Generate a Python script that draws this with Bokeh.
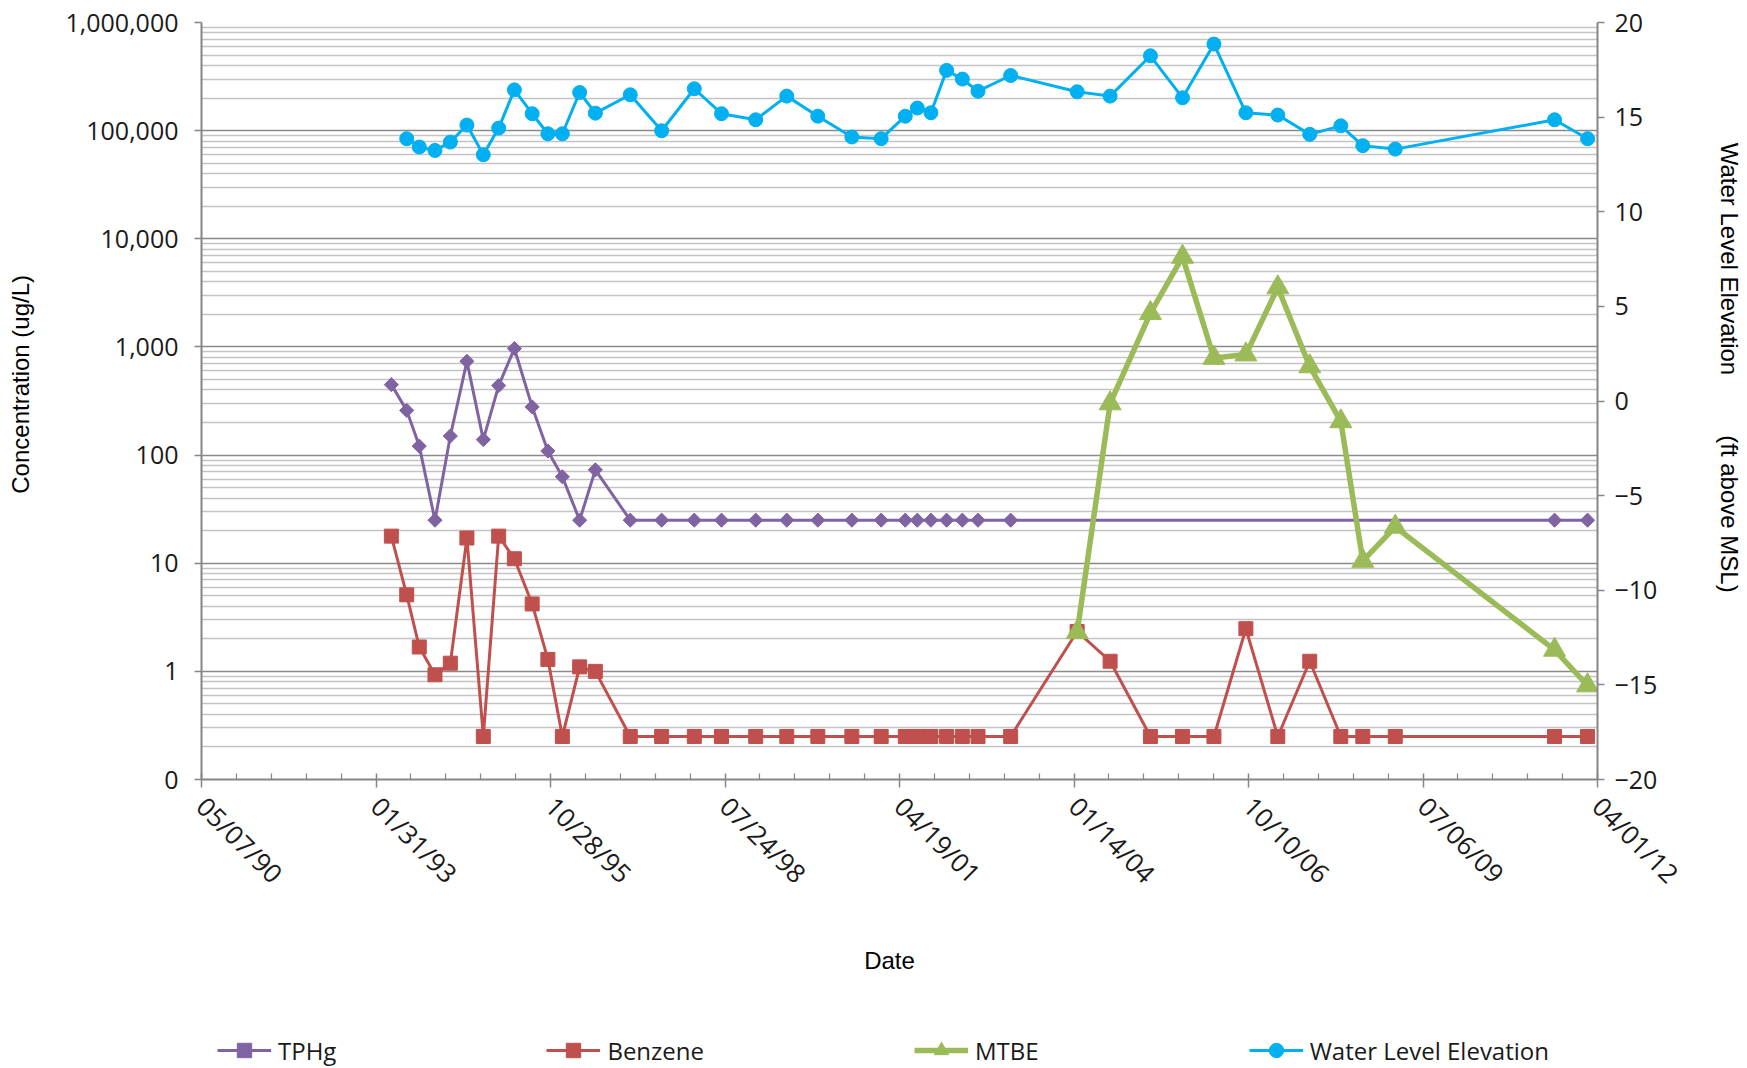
import math
from datetime import datetime, timedelta

import pandas as pd
from bokeh.plotting import figure
from bokeh.layouts import column
from bokeh.models import (Range1d, LinearAxis, LinearScale, FixedTicker, NumeralTickFormatter,
                          DatetimeTickFormatter, Legend, LegendItem, ColumnDataSource)
from bokeh.embed import file_html
from bokeh.resources import INLINE

# ---------------- data ----------------
sample_dates = [
    "1993-04-29", "1993-07-26", "1993-10-06", "1994-01-04", "1994-04-02", "1994-07-06",
    "1994-10-08", "1995-01-04", "1995-04-04", "1995-07-15", "1995-10-13", "1996-01-04",
    "1996-04-12", "1996-07-11", "1997-01-27", "1997-07-26", "1998-01-29", "1998-07-04",
    "1999-01-16", "1999-07-13", "2000-01-07", "2000-07-20", "2001-01-04", "2001-05-22",
    "2001-07-30", "2001-10-16", "2002-01-14", "2002-04-14", "2002-07-13", "2003-01-16",
    "2004-02-01", "2004-08-08", "2005-03-27", "2005-09-27", "2006-03-26", "2006-09-25",
    "2007-03-27", "2007-09-26", "2008-03-22", "2008-07-26", "2009-01-28", "2011-07-30",
    "2012-02-04",
]

tphg = [
    448, 259, 121, 25, 150, 736, 139, 439, 966, 279, 109, 63, 25, 73,
    25, 25, 25, 25, 25, 25, 25, 25, 25, 25, 25, 25, 25, 25, 25, 25,
    None, None, None, None, None, None, None, None, None, None, None,
    25, 25,
]

benzene = [
    17.8, 5.1, 1.68, 0.93, 1.19, 17.1, 0.25, 17.8, 11.0, 4.2, 1.29, 0.25, 1.10, 1.0,
    0.25, 0.25, 0.25, 0.25, 0.25, 0.25, 0.25, 0.25, 0.25, 0.25, 0.25, 0.25, 0.25, 0.25,
    0.25, 0.25,
    2.34, 1.24, 0.25, 0.25, 0.25, 2.48, 0.25, 1.24, 0.25, 0.25, 0.25, 0.25, 0.25,
]

mtbe = [
    None, None, None, None, None, None, None, None, None, None, None, None, None, None,
    None, None, None, None, None, None, None, None, None, None, None, None, None, None,
    None, None,
    2.3, 300, 2050, 6800, 790, 850, 3550, 660, 205, 10.5, 21.7, 1.58, 0.74,
]

water_level = [
    None, 13.86, 13.42, 13.24, 13.68, 14.58, 13.01, 14.42, 16.44, 15.18, 14.12, 14.12,
    16.30, 15.21, 16.18, 14.28, 16.50, 15.18, 14.86, 16.11, 15.05, 13.95, 13.86, 15.05,
    15.48, 15.23, 17.47, 17.01, 16.37, 17.20,
    16.34, 16.11, 18.24, 16.02, 18.86, 15.23, 15.11, 14.09, 14.54, 13.49, 13.31, 14.86,
    13.86,
]

x_tick_labels = ["05/07/90", "01/31/93", "10/28/95", "07/24/98", "04/19/01",
                 "01/14/04", "10/10/06", "07/06/09", "04/01/12"]
conc_ticks = [0.1, 1, 10, 100, 1000, 10000, 100000, 1000000]
wl_ticks = [-20, -15, -10, -5, 0, 5, 10, 15, 20]

series_names = ["TPHg", "Benzene", "MTBE", "Water Level Elevation"]
colors = ["#8064A2", "#C0504D", "#9BBB59", "#00B0F0"]

NBSP = "\u00a0"
x_title = "Date" + NBSP * 3
y_title = NBSP * 5 + "Concentration (ug/L)"
y2_title = "Water Level Elevation" + NBSP * 9 + "(ft above MSL)" + NBSP * 10

# ---------------- helpers ----------------
EPOCH = datetime(1970, 1, 1)


def to_ms(d):
    return (d - EPOCH).total_seconds() * 1000.0


def make_source(values):
    xs, ys = [], []
    for d, v in zip(sample_dates, values):
        if v is not None:
            xs.append(pd.Timestamp(d))
            ys.append(v)
    return ColumnDataSource(dict(x=xs, y=ys))


tick_dates = [datetime.strptime(s, "%m/%d/%y") for s in x_tick_labels]
major_x = [to_ms(d) for d in tick_dates]
minor_x = []
for d in tick_dates[:-1]:
    for k in range(1, 5):
        minor_x.append(to_ms(d + timedelta(days=200 * k)))

dec_minor = []
for t in conc_ticks[:-1]:
    for k in range(2, 10):
        dec_minor.append(t * k)

# ---------------- main figure ----------------
TICK_FONT = "Open Sans"
TITLE_FONT = "Liberation Sans"
GRAY = "#868686"
W = 1747
H_MAIN = 1000
H_LEG = 68

p = figure(width=W, height=H_MAIN, output_backend="svg", toolbar_location=None,
           x_axis_type="datetime", y_axis_type="log",
           x_range=Range1d(tick_dates[0], tick_dates[-1]),
           y_range=Range1d(conc_ticks[0], conc_ticks[-1]),
           min_border_left=201, min_border_right=150, min_border_top=22,
           min_border_bottom=221)
p.outline_line_color = None
p.background_fill_color = "white"
p.border_fill_color = "white"
p.extra_y_ranges = {"wl": Range1d(wl_ticks[0], wl_ticks[-1])}
p.extra_y_scales = {"wl": LinearScale()}

# grids
p.xgrid.grid_line_color = None
p.ygrid.ticker = FixedTicker(ticks=conc_ticks, minor_ticks=dec_minor)
p.ygrid.grid_line_color = "#8a8a8a"
p.ygrid.grid_line_width = 1.6
p.ygrid.minor_grid_line_color = "#c4c4c4"
p.ygrid.minor_grid_line_width = 1.4

# x axis
xa = p.xaxis[0]
xa.ticker = FixedTicker(ticks=major_x, minor_ticks=minor_x)
xa.formatter = DatetimeTickFormatter(days="%m/%d/%y", months="%m/%d/%y", years="%m/%d/%y")
xa.major_label_orientation = -math.pi / 4
xa.axis_label = x_title
xa.axis_label_standoff = 40
xa.major_label_standoff = 14
xa.major_tick_in = 6
xa.major_tick_out = 8
xa.minor_tick_in = 6
xa.minor_tick_out = 0

# left axis
ya = p.yaxis[0]
ya.ticker = FixedTicker(ticks=conc_ticks)
ya.formatter = NumeralTickFormatter(format="0,0")
ya.axis_label = y_title
ya.axis_label_standoff = 28
ya.major_label_standoff = 16
ya.major_tick_in = 0
ya.major_tick_out = 7
ya.minor_tick_in = 0
ya.minor_tick_out = 0

# right axis
ra = LinearAxis(y_range_name="wl", ticker=FixedTicker(ticks=wl_ticks), axis_label=y2_title)
ra.axis_label_standoff = 56
ra.major_label_standoff = 10
ra.major_tick_in = 0
ra.major_tick_out = 7
ra.minor_tick_in = 0
ra.minor_tick_out = 0
p.add_layout(ra, "right")

for ax in [xa, ya, ra]:
    ax.axis_line_color = GRAY
    ax.axis_line_width = 2
    ax.major_tick_line_color = GRAY
    ax.major_tick_line_width = 1.5
    ax.minor_tick_line_color = GRAY
    ax.minor_tick_line_width = 1.2
    ax.major_label_text_font = TICK_FONT
    ax.major_label_text_font_size = "25px"
    ax.major_label_text_color = "#1a1a1a"
    ax.axis_label_text_font = TITLE_FONT
    ax.axis_label_text_font_size = "24px"
    ax.axis_label_text_font_style = "normal"
    ax.axis_label_text_color = "#000000"
xa.major_label_text_font_size = "26px"

# ---------------- series ----------------
src_t = make_source(tphg)
src_b = make_source(benzene)
src_m = make_source(mtbe)
src_w = make_source(water_level)

STYLE = [
    dict(marker="square", angle=math.pi / 4, size=10, lw=3),
    dict(marker="square", angle=0.0, size=14, lw=3),
    dict(marker="triangle", angle=0.0, size=22, lw=5.5),
    dict(marker="circle", angle=0.0, size=14, lw=3),
]


def draw_series(fig, src, i, **kw):
    st = STYLE[i]
    ln = fig.line("x", "y", source=src, color=colors[i], line_width=st["lw"], **kw)
    sc = fig.scatter("x", "y", source=src, marker=st["marker"], angle=st["angle"],
                     size=st["size"], color=colors[i], **kw)
    return ln, sc


draw_series(p, src_t, 0)
draw_series(p, src_b, 1)
draw_series(p, src_m, 2)
draw_series(p, src_w, 3, y_range_name="wl")

# ---------------- legend strip (below the chart) ----------------
leg_fig = figure(width=W, height=H_LEG, output_backend="svg", toolbar_location=None,
                 x_axis_location=None, y_axis_location=None, x_axis_type="datetime",
                 x_range=Range1d(tick_dates[0], tick_dates[-1]),
                 y_range=Range1d(-2, -1), min_border=0)
leg_fig.outline_line_color = None
leg_fig.xgrid.visible = False
leg_fig.ygrid.visible = False
leg_fig.background_fill_color = "white"
leg_fig.border_fill_color = "white"

items = []
for i, src in enumerate([src_t, src_b, src_m, src_w]):
    ln, sc = draw_series(leg_fig, src, i)
    items.append(LegendItem(label=series_names[i], renderers=[ln, sc]))

legend = Legend(items=items, orientation="horizontal", location=(16, 0))
legend.spacing = 210
legend.glyph_width = 54
legend.glyph_height = 36
legend.label_standoff = 7
legend.padding = 0
legend.margin = 0
legend.border_line_color = None
legend.background_fill_alpha = 0
legend.label_text_font = TICK_FONT
legend.label_text_font_size = "24px"
legend.label_text_color = "#1a1a1a"
legend.label_height = 36
leg_fig.add_layout(legend, "center")

layout = column(p, leg_fig, spacing=0)
open("out.html", "w").write(file_html(layout, INLINE))
